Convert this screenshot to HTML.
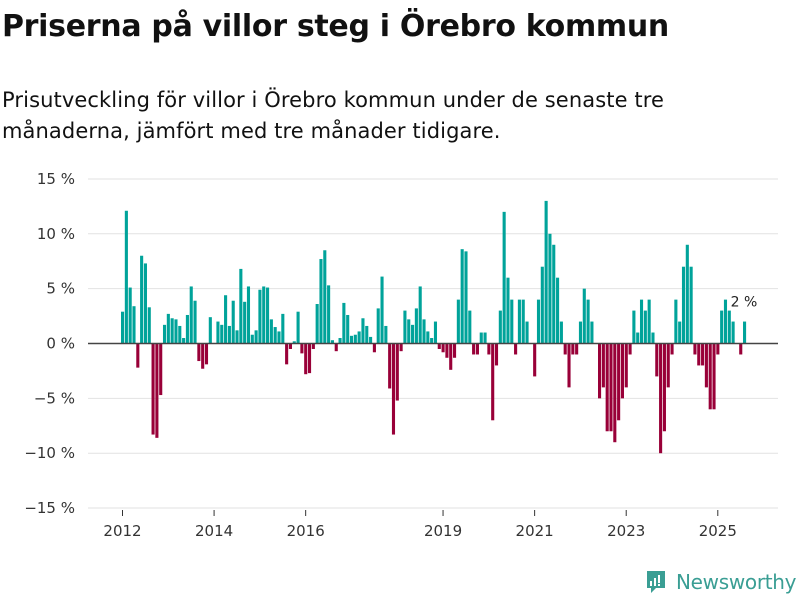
<!DOCTYPE html>
<html><head><meta charset="utf-8"><style>
body{margin:0;background:#fff;width:800px;height:600px;overflow:hidden;font-family:"Liberation Sans","DejaVu Sans",sans-serif;color:#111}
h1{position:absolute;left:2px;top:9px;margin:0;font-size:30px;font-weight:bold;font-family:"DejaVu Sans","Liberation Sans",sans-serif;letter-spacing:-0.3px}
.sub{position:absolute;left:2px;top:85px;font-size:21px;line-height:31px;font-family:"DejaVu Sans","Liberation Sans",sans-serif;width:700px;letter-spacing:0.1px}
svg{position:absolute;left:0;top:0}
</style></head><body>
<h1>Priserna på villor steg i Örebro kommun</h1>
<div class="sub">Prisutveckling för villor i Örebro kommun under de senaste tre månaderna, jämfört med tre månader tidigare.</div>
<svg id="c" width="800" height="600"></svg>
<div style="position:absolute;left:645px;top:569px;display:flex;align-items:center">
<svg width="22" height="26" style="position:static"><path d="M2 2h18v17h-9l-5 5v-5H2z" fill="#3a9e94"/><rect x="5" y="12" width="2" height="5" fill="#fff"/><rect x="9" y="9" width="2" height="8" fill="#fff"/><rect x="13" y="6" width="2" height="8" fill="#fff"/><rect x="13" y="15" width="2" height="2" fill="#fff"/></svg>
<span style="margin-left:9px;font-size:20px;color:#3a9e94;font-family:'DejaVu Sans',sans-serif;letter-spacing:-0.3px">Newsworthy</span></div>
<script>
const values=[2.9,12.1,5.1,3.4,-2.2,8.0,7.3,3.3,-8.3,-8.6,-4.7,1.7,2.7,2.3,2.2,1.6,0.5,2.6,5.2,3.9,-1.6,-2.3,-1.9,2.4,0,2.0,1.7,4.4,1.6,3.9,1.2,6.8,3.8,5.2,0.8,1.2,4.9,5.2,5.1,2.2,1.5,1.1,2.7,-1.9,-0.5,0.2,2.9,-0.9,-2.8,-2.7,-0.5,3.6,7.7,8.5,5.3,0.3,-0.7,0.5,3.7,2.6,0.7,0.8,1.1,2.3,1.6,0.6,-0.8,3.2,6.1,1.6,-4.1,-8.3,-5.2,-0.7,3.0,2.2,1.7,3.2,5.2,2.2,1.1,0.5,2.0,-0.5,-0.8,-1.3,-2.4,-1.3,4.0,8.6,8.4,3.0,-1.0,-1.0,1.0,1.0,-1.0,-7.0,-2.0,3.0,12.0,6.0,4.0,-1.0,4.0,4.0,2.0,0,-3.0,4.0,7.0,13.0,10.0,9.0,6.0,2.0,-1.0,-4.0,-1.0,-1.0,2.0,5.0,4.0,2.0,0,-5,-4,-8,-8,-9,-7,-5,-4,-1,3,1,4,3,4,1,-3,-10,-8,-4,-1,4,2,7,9,7,-1,-2,-2,-4,-6,-6,-1,3,4,3,2,0,-1,2];
const yTicks=[15,10,5,0,-5,-10,-15];
const yLabels=["15 %","10 %","5 %","0 %","−5 %","−10 %","−15 %"];
const xTickMonths=[0,24,48,84,108,132,156];
const xLabels=["2012","2014","2016","2019","2021","2023","2025"];
const lastLabel="2 %";
const svg=document.getElementById('c');const NS='http://www.w3.org/2000/svg';
const y=v=>343.5-v*10.97;const x=i=>121+i*3.816;
function el(t,a){const e=document.createElementNS(NS,t);for(const k in a)e.setAttribute(k,a[k]);svg.appendChild(e);return e;}
yTicks.forEach((t,i)=>{
 if(t!==0){const g=el('line',{x1:88,x2:778,y1:y(t),y2:y(t),stroke:'#e2e2e2','stroke-width':1});
 
 }
 const l=el('text',{x:75,y:y(t)+5,'text-anchor':'end','font-size':15,fill:'#333','font-family':'DejaVu Sans, sans-serif'});l.textContent=yLabels[i];
 
 
});
xTickMonths.forEach((m,i)=>{
 const tk=el('line',{x1:x(m)+1.5,x2:x(m)+1.5,y1:510,y2:516,stroke:'#333'});
 
 
 const l=el('text',{x:x(m)+1.5,y:536,'text-anchor':'middle','font-size':15,fill:'#333','font-family':'DejaVu Sans, sans-serif'});l.textContent=xLabels[i];
 
 
});
values.forEach((v,i)=>{
 if(v===0)return;
 const top=v>0?y(v):y(0);const h=Math.abs(y(v)-y(0));
 const r=el('rect',{x:x(i),y:top,width:3.1,height:h,fill:v>0?'#00a39a':'#990038'});
 
 
});
const z=el('line',{x1:88,x2:778,y1:y(0),y2:y(0),stroke:'#444','stroke-width':1.5});


const li=values.length-1;
const lt=el('text',{x:x(li)+1,y:y(values[li])-15,'text-anchor':'middle','font-size':14,fill:'#222','font-family':'DejaVu Sans, sans-serif'});lt.textContent=lastLabel;


</script>
</body></html>
